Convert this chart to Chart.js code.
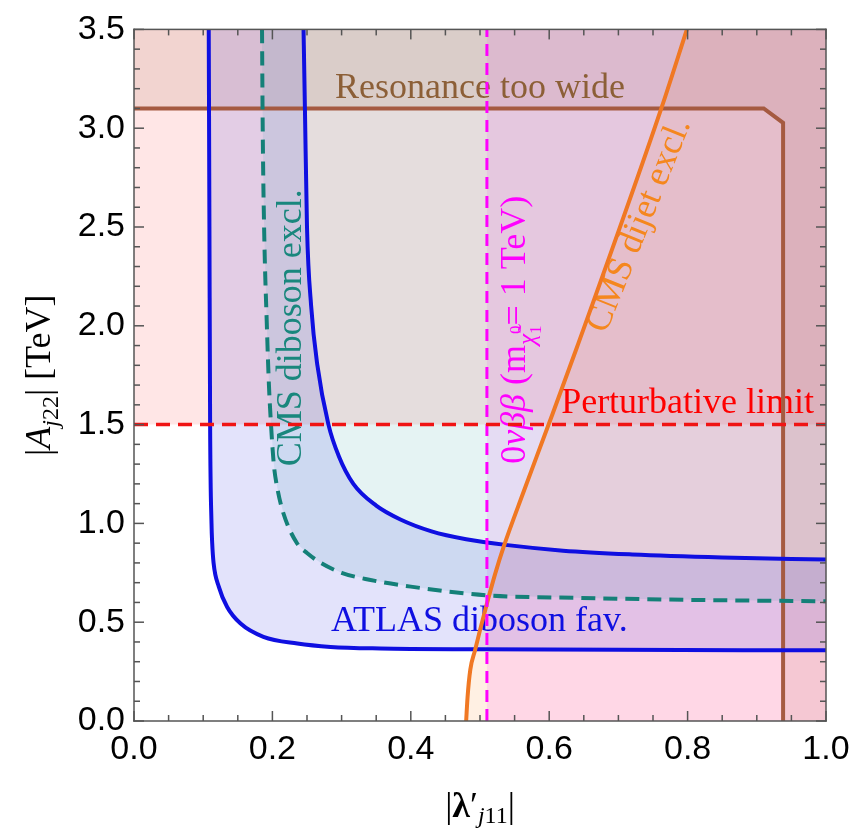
<!DOCTYPE html>
<html>
<head>
<meta charset="utf-8">
<script src="https://cdn.jsdelivr.net/npm/chart.js@4.4.0/dist/chart.umd.min.js"></script>
<style>
  html, body { margin: 0; padding: 0; background: #fff; }
  canvas { display: block; }
</style>
</head>
<body>
<canvas id="chart" width="860" height="835"></canvas>
<script>
// axis ranges and tick labels
const xRange = [0, 1];
const yRange = [0, 3.5];
const xTicks = [0, 0.2, 0.4, 0.6, 0.8, 1.0];
const yTicks = [0, 0.5, 1.0, 1.5, 2.0, 2.5, 3.0, 3.5];

// contours, [lambda', A] pairs
const atlasLower = [[0.108,3.5],[0.109,2.5],[0.110,1.5],[0.112,1.0],[0.113,0.9],[0.115,0.80],[0.1225,0.68],
  [0.1346,0.577],[0.154,0.493],[0.187,0.426],[0.236,0.392],[0.284,0.375],[0.356,0.367],[0.5,0.363],
  [0.7,0.36],[1.0,0.358]];
const atlasUpper = [[0.245,3.5],[0.247,3.1],[0.250,2.5],[0.256,2.1],[0.265,1.8],[0.281,1.5],[0.296,1.34],
  [0.317,1.20],[0.35,1.09],[0.385,1.02],[0.43,0.96],[0.48,0.92],[0.54,0.89],[0.62,0.862],[0.72,0.843],
  [0.85,0.828],[1.0,0.817]];
const cmsDiboson = [[0.185,3.5],[0.186,3.0],[0.188,2.5],[0.192,2.0],[0.195,1.7],[0.198,1.5],[0.202,1.30],
  [0.207,1.18],[0.216,1.05],[0.236,0.897],[0.25,0.85],[0.27,0.80],[0.30,0.75],[0.34,0.715],[0.40,0.68],
  [0.51,0.636],[0.645,0.623],[0.8,0.613],[1.0,0.606]];
const cmsDijet = [[0.48,0],[0.482,0.12],[0.486,0.26],[0.493,0.36],[0.5,0.46],[0.51,0.594],[0.522,0.746],
  [0.534,0.88],[0.563,1.16],[0.597,1.48],[0.64,1.89],[0.762,3.1],[0.799,3.5]];
const resonanceEdge = [[0,3.1],[0.91,3.1],[0.938,3.027],[0.938,0]];
const perturbativeLimit = 1.5;
const onbbLimit = 0.51;

const [x0, x1] = xRange;
const [y0, y1] = yRange;
const pts = a => a.map(([x, y]) => ({x, y}));

// shaded regions as closed shapes
const perturbativeArea = [[x0,perturbativeLimit],[x1,perturbativeLimit],[x1,y1],[x0,y1]];
const resonanceArea = [...resonanceEdge, [x1,y0], [x1,y1], [x0,y1]];
const onbbArea = [[onbbLimit,y0],[x1,y0],[x1,y1],[onbbLimit,y1]];
const dijetArea = [...cmsDijet, [x1,y1], [x1,y0]];
const dibosonArea = [...cmsDiboson, [x1,y1]];
const atlasArea = [...atlasLower, ...atlasUpper.slice().reverse()];

function area(data, color) {
  return { data: pts(data), fill: 'shape', backgroundColor: color, borderColor: 'transparent',
           borderWidth: 0, pointRadius: 0, tension: 0 };
}
function curve(data, color, width, dash, smooth) {
  return { data: pts(data), fill: false, borderColor: color, borderWidth: width,
           borderDash: dash || [], pointRadius: 0, borderCapStyle: 'butt',
           cubicInterpolationMode: smooth ? 'monotone' : 'default', tension: smooth ? 0.4 : 0 };
}

const SERIF = '"Liberation Serif", "Times New Roman", serif';
const SANS = '"Liberation Sans", Arial, sans-serif';
const sf = (size, style) => (style ? style + ' ' : '') + size + 'px ' + SERIF;

// text labels placed in data coordinates
const labels = [
  { runs: [{t: 'Resonance too wide', f: sf(36)}], x: 0.5, y: 3.153, angle: 0, color: 'rgb(140,95,55)' },
  { runs: [{t: 'CMS diboson excl.', f: sf(36)}], x: 0.242, y: 1.99, angle: -90, color: 'rgb(25,135,125)' },
  { runs: [{t: '0', f: sf(36)}, {t: 'νββ', f: sf(36, 'italic')}, {t: ' (m', f: sf(36)},
           {t: 'χ\u0303', f: sf(25, 'italic'), dy: 10}, {t: '0', f: sf(17), dy: -4},
           {t: '1', f: sf(17), dy: 16, over: true}, {t: '= 1 TeV)', f: sf(36)}],
    x: 0.565, y: 1.98, angle: -90, color: '#ff00ff' },
  { runs: [{t: 'CMS dijet excl.', f: sf(36)}], x: 0.743, y: 2.49, angle: -68, color: 'rgb(245,135,30)' },
  { runs: [{t: 'Perturbative limit', f: sf(36)}], x: 0.80, y: 1.56, angle: 0, color: '#ff0000' },
  { runs: [{t: 'ATLAS diboson fav.', f: sf(36)}], x: 0.499, y: 0.456, angle: 0, color: 'rgb(15,15,225)' }
];

const yTitle = [{t: '|', f: sf(36)}, {t: 'A', f: sf(36, 'italic')}, {t: 'j', f: sf(24, 'italic'), dy: 8},
  {t: '22', f: sf(24), dy: 8}, {t: '| [TeV]', f: sf(36)}];
const xTitle = [{t: '|', f: sf(36)}, {t: 'λ', f: sf(36, 'bold')}, {t: '′', f: sf(36)},
  {t: 'j', f: sf(24, 'italic'), dy: 6}, {t: '11', f: sf(24), dy: 6}, {t: '|', f: sf(36)}];

function drawRuns(ctx, runs, x, y, angle, color) {
  let pen = 0, lastStart = 0;
  const placed = runs.map(r => {
    ctx.font = r.f;
    const w = ctx.measureText(r.t).width;
    const start = r.over ? lastStart : pen;
    lastStart = start;
    pen = Math.max(pen, start + w);
    return {r, start};
  });
  ctx.save();
  ctx.translate(x, y);
  ctx.rotate(angle * Math.PI / 180);
  ctx.fillStyle = color;
  ctx.textBaseline = 'alphabetic';
  ctx.textAlign = 'left';
  for (const {r, start} of placed) {
    ctx.font = r.f;
    ctx.fillText(r.t, start - pen / 2, r.dy || 0);
  }
  ctx.restore();
}

// frame with inward major/minor ticks on all four sides
function drawFrame(ctx, a, x, y) {
  const lw = 1.5;
  ctx.save();
  ctx.fillStyle = '#555';
  ctx.fillRect(a.left - lw / 2, a.top - lw / 2, a.right - a.left + lw, lw);
  ctx.fillRect(a.left - lw / 2, a.bottom - lw / 2, a.right - a.left + lw, lw);
  ctx.fillRect(a.left - lw / 2, a.top - lw / 2, lw, a.bottom - a.top + lw);
  ctx.fillRect(a.right - lw / 2, a.top - lw / 2, lw, a.bottom - a.top + lw);
  for (let i = 0; i <= 20; i++) {
    const len = i % 4 === 0 ? 10 : 6;
    const px = x.getPixelForValue(i * 0.05);
    ctx.fillRect(px - lw / 2, a.bottom - len, lw, len);
    ctx.fillRect(px - lw / 2, a.top, lw, len);
  }
  for (let i = 0; i <= 35; i++) {
    const len = i % 5 === 0 ? 10 : 6;
    const py = y.getPixelForValue(i * 0.1);
    ctx.fillRect(a.left, py - lw / 2, len, lw);
    ctx.fillRect(a.right - len, py - lw / 2, len, lw);
  }
  ctx.restore();
}

const decorations = {
  id: 'decorations',
  beforeDatasetsDraw(chart) {
    const {ctx, scales: {x, y}} = chart;
    for (const l of labels) {
      drawRuns(ctx, l.runs, x.getPixelForValue(l.x), y.getPixelForValue(l.y), l.angle, l.color);
    }
  },
  afterDraw(chart) {
    const {ctx, chartArea: a, scales: {x, y}} = chart;
    drawRuns(ctx, yTitle, a.left - 84, (a.top + a.bottom) / 2, -90, '#000');
    drawRuns(ctx, xTitle, (a.left + a.right) / 2, a.bottom + 96, 0, '#000');
    drawFrame(ctx, a, x, y);
  }
};

new Chart(document.getElementById('chart').getContext('2d'), {
  type: 'line',
  data: {
    datasets: [
      curve([[x0, perturbativeLimit], [x1, perturbativeLimit]], 'rgb(240,20,20)', 3.5, [14, 8]),
      curve([[onbbLimit, y0], [onbbLimit, y1]], '#ff00ff', 3, [12, 7]),
      curve(cmsDijet, 'rgb(240,120,35)', 4, null, true),
      curve(cmsDiboson, 'rgb(20,128,120)', 4, [14, 8], true),
      curve(atlasLower, 'rgb(15,15,225)', 4, null, true),
      curve(atlasUpper, 'rgb(15,15,225)', 4, null, true),
      curve(resonanceEdge, 'rgb(165,90,65)', 4),
      area(atlasArea, 'rgba(60,60,230,0.14)'),
      area(dibosonArea, 'rgba(0,140,140,0.1)'),
      area(onbbArea, 'rgba(255,0,255,0.1)'),
      area(dijetArea, 'rgba(255,150,60,0.14)'),
      area(resonanceArea, 'rgba(150,80,50,0.12)'),
      area(perturbativeArea, 'rgba(255,60,60,0.13)')
    ]
  },
  options: {
    responsive: false,
    animation: false,
    layout: { padding: { top: 28, right: 34, left: 0, bottom: 0 } },
    plugins: {
      legend: { display: false },
      tooltip: { enabled: false },
      filler: { drawTime: 'beforeDatasetsDraw' }
    },
    scales: {
      x: {
        type: 'linear', min: x0, max: x1,
        afterBuildTicks: s => { s.ticks = xTicks.map(v => ({value: v})); },
        afterFit: s => { s.height = 114; },
        grid: { display: false, drawTicks: false },
        border: { display: false },
        ticks: { padding: 8, color: '#000', font: { family: SANS, size: 34 },
                 maxRotation: 0, callback: v => v.toFixed(1) }
      },
      y: {
        type: 'linear', min: y0, max: y1,
        afterBuildTicks: s => { s.ticks = yTicks.map(v => ({value: v})); },
        afterFit: s => { s.width = 134; },
        grid: { display: false, drawTicks: false },
        border: { display: false },
        ticks: { padding: 9, color: '#000', font: { family: SANS, size: 34 },
                 callback: v => v.toFixed(1) }
      }
    }
  },
  plugins: [decorations]
});
</script>
</body>
</html>
